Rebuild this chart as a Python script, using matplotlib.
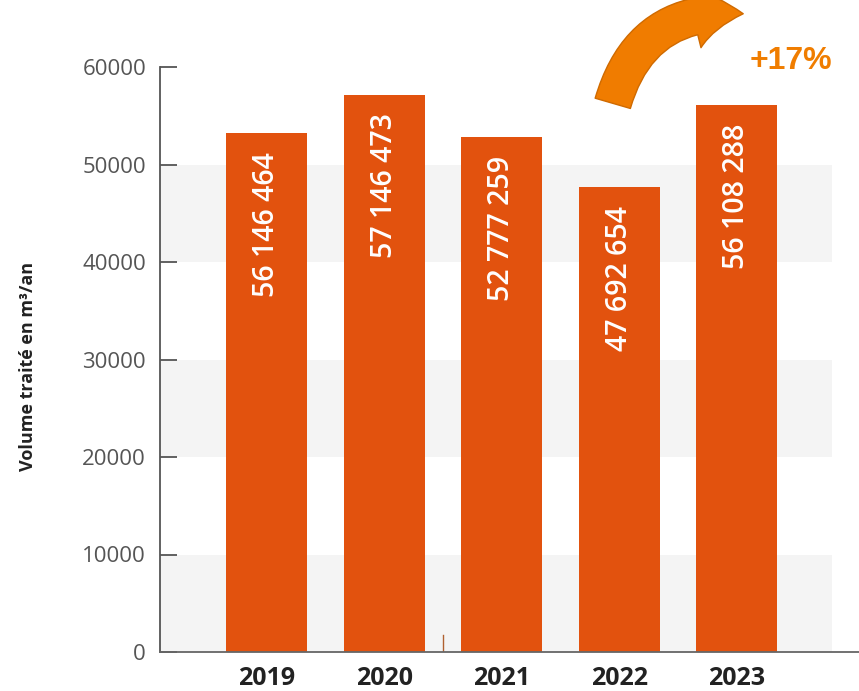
import matplotlib
import matplotlib.pyplot as plt
from matplotlib.patches import FancyArrowPatch

# bar heights as drawn, and the labels printed in the bars
years = ["2019", "2020", "2021", "2022", "2023"]
volumes = [53200, 57146, 52777, 47692, 56108]
bar_labels = ["56 146 464", "57 146 473", "52 777 259", "47 692 654", "56 108 288"]
y_ticks = [0, 10000, 20000, 30000, 40000, 50000, 60000]
bands = [(0, 10000), (20000, 30000), (40000, 50000)]
growth = "+17%"

bar_color = "#e2520e"
fig = plt.figure(figsize=(8.59, 6.91), dpi=100)
ax = fig.add_axes([160 / 859, 1 - 652 / 691, 1 - 160 / 859, (652 - 67) / 691])

x = list(range(len(years)))
ax.set_xlim(-0.91, 5.04)
ax.set_ylim(0, 60000)

for lo, hi in bands:
    ax.axhspan(lo, hi, xmin=0, xmax=(4.81 + 0.91) / 5.95, color="#f4f4f4", zorder=0, lw=0)

ax.bar(x, volumes, width=0.69, color=bar_color, zorder=2)
for xi, v, lab in zip(x, volumes, bar_labels):
    ax.text(xi, v - 1900, lab, rotation=90, ha="center", va="top", color="white",
            fontsize=20.5, fontweight="semibold", family="Open Sans", zorder=3)

# stray tick between 2020 and 2021
ax.plot([1.5, 1.5], [0, 1700], color="#b06030", lw=1, zorder=1)

for side in ["top", "right"]:
    ax.spines[side].set_visible(False)
ax.spines["left"].set_color("#555555")
ax.spines["left"].set_linewidth(1.3)
ax.spines["bottom"].set_color("#666666")
ax.spines["bottom"].set_linewidth(1.3)

ax.set_yticks(y_ticks)
ax.set_yticklabels([str(t) for t in y_ticks], family="Open Sans", fontsize=16, color="#555555")
ax.tick_params(axis="y", direction="in", length=12, width=1.3, color="#555555", pad=10)
ax.set_xticks(x)
ax.set_xticklabels(years, family="Open Sans", fontsize=18, fontweight="bold", color="#222222")
ax.tick_params(axis="x", length=0, pad=10)

fig.text(28 / 859, 1 - 366 / 691, "Volume traité en m³/an", rotation=90, ha="center", va="center",
         fontsize=13, fontweight="bold", family="Open Sans", color="#222222")

# curved arrow showing the increase
arrow = FancyArrowPatch((612 / 859, 1 - 106 / 691), (746 / 859, 1 - 14 / 691),
                        transform=fig.transFigure, connectionstyle="arc3,rad=-0.42",
                        arrowstyle="simple,head_length=1.5,head_width=1.9,tail_width=1.1",
                        mutation_scale=24, facecolor="#f07c00", edgecolor="#cf6a00", lw=1)
fig.patches.append(arrow)
fig.text(791 / 859, 1 - 61 / 691, growth, ha="center", va="center", fontsize=23,
         fontweight="bold", family="Liberation Sans", color="#f07d00")

fig.savefig("out.png", dpi=100)
